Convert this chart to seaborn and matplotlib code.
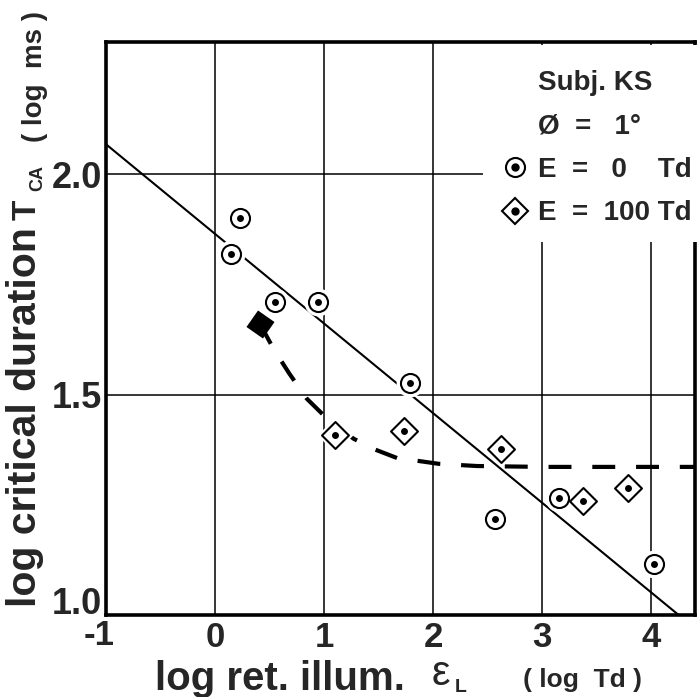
import matplotlib
matplotlib.use("Agg")
import matplotlib.pyplot as plt
import matplotlib.transforms as mtransforms
from matplotlib.lines import Line2D
from matplotlib.patches import Rectangle
import seaborn as sns

# E = 0 Td : dotted circles
illum_dark = [0.15, 0.23, 0.55, 0.94, 1.79, 2.57, 3.15, 4.02]
dur_dark = [1.818, 1.900, 1.709, 1.709, 1.527, 1.218, 1.266, 1.116]

# E = 100 Td : dotted diamonds
illum_bg = [1.10, 1.73, 2.62, 3.37, 3.79]
dur_bg = [1.409, 1.418, 1.377, 1.259, 1.289]

# E = 100 Td : filled starting point of the dashed curve
illum_start = [0.41]
dur_start = [1.661]

# straight line through the E = 0 data
fit_x = [-1.0, 4.25]
fit_y = [2.068, 1.0]

# dashed curve through the E = 100 data
curve_x = [0.41, 0.54, 0.68, 0.84, 1.05, 1.27, 1.45, 1.68, 1.85, 2.05, 2.4, 3.0, 3.5, 4.0, 4.4]
curve_y = [1.661, 1.602, 1.548, 1.491, 1.440, 1.400, 1.377, 1.355, 1.350, 1.343,
           1.338, 1.336, 1.336, 1.336, 1.336]

x_ticks = [-1, 0, 1, 2, 3, 4]
x_tick_labels = ["-1", "0", "1", "2", "3", "4"]
y_ticks = [1.0, 1.5, 2.0]
y_tick_labels = ["1.0", "1.5", "2.0"]

legend_labels = ["Subj. KS", "Ø  =   1°", "E  =   0    Td", "E  =  100 Td"]

sns.set_style("white")
plt.rcParams["font.family"] = ["Liberation Sans", "DejaVu Sans"]
plt.rcParams["font.weight"] = "bold"

W, H = 698, 697
fig = plt.figure(figsize=(W / 100, H / 100), dpi=100)
ax = fig.add_axes([106 / W, 1 - 615 / H, (695 - 106) / W, (615 - 42) / H])


def ftext(px, py, s, **kw):
    return fig.text(px / W, 1 - py / H, s, **kw)


ax.set_xlim(-1, 4.4)
ax.set_ylim(1.0, 2.3)
ax.set_xticks(x_ticks)
ax.set_xticklabels(x_tick_labels)
ax.set_yticks(y_ticks)
ax.set_yticklabels(y_tick_labels)
ax.grid(True, color="black", lw=1.1)
ax.set_axisbelow(True)
for sp in ax.spines.values():
    sp.set_color("black")
    sp.set_linewidth(2.6)
ax.tick_params(axis="x", labelsize=25, pad=4, length=0)
ax.tick_params(axis="y", labelsize=26, pad=3, length=0)

# nudge the corner labels apart
lab_y0 = ax.get_yticklabels()[0]
lab_y0.set_transform(lab_y0.get_transform() + mtransforms.ScaledTranslation(0, 0.15, fig.dpi_scale_trans))
lab_x0 = ax.get_xticklabels()[0]
lab_x0.set_transform(lab_x0.get_transform() + mtransforms.ScaledTranslation(-0.07, 0.02, fig.dpi_scale_trans))

# curves
sns.lineplot(x=fit_x, y=fit_y, color="black", lw=1.5, ax=ax, zorder=2)
sns.lineplot(x=curve_x, y=curve_y, color="black", lw=3, linestyle=(0, (5.5, 5)),
             ax=ax, zorder=2)

# white halos keep the lines clear of the symbols
sns.scatterplot(x=illum_dark, y=dur_dark, marker="o", s=400, color="white",
                linewidth=0, ax=ax, zorder=3)
sns.scatterplot(x=illum_bg, y=dur_bg, marker="D", s=330, color="white",
                linewidth=0, ax=ax, zorder=3)

# symbols
sns.scatterplot(x=illum_dark, y=dur_dark, marker="o", s=188, color="white",
                edgecolor="black", linewidth=1.5, ax=ax, zorder=4)
sns.scatterplot(x=illum_bg, y=dur_bg, marker="D", s=188, color="white",
                edgecolor="black", linewidth=1.5, ax=ax, zorder=4)
sns.scatterplot(x=illum_dark + illum_bg, y=dur_dark + dur_bg, marker="o", s=25,
                color="black", linewidth=0, ax=ax, zorder=5)
sns.scatterplot(x=illum_start, y=dur_start, marker=(4, 0, 10), s=420, color="black",
                linewidth=0, ax=ax, zorder=5)

# blank panel behind the key
ax.add_patch(Rectangle((2.46, 1.846), 2.1, 0.447, facecolor="white", edgecolor="none",
                       zorder=3, clip_on=False))

circ = Line2D([], [], marker="o", ls="none", ms=13.7, mfc="white", mec="black", mew=1.5)
diam = Line2D([], [], marker="D", ls="none", ms=13.7, mfc="white", mec="black", mew=1.5)
dot = Line2D([], [], marker="o", ls="none", ms=5, color="black")
blank = Line2D([], [], ls="none")
leg = ax.legend(handles=[blank, blank, (circ, dot), (diam, dot)], labels=legend_labels,
                loc="upper left", bbox_to_anchor=(500 / W, 1 - 70 / H),
                bbox_transform=fig.transFigure, frameon=False, fontsize=20,
                handlelength=1.05, handletextpad=0.3, labelspacing=0.63,
                borderpad=0, borderaxespad=0)
leg.set_zorder(6)

# axis titles
ftext(36, 607, "log critical duration", rotation=90, rotation_mode="anchor",
      ha="left", va="baseline", fontsize=29.5)
ftext(36, 220, "T", rotation=90, rotation_mode="anchor", ha="left", va="baseline", fontsize=24)
ftext(42, 191, "CA", rotation=90, rotation_mode="anchor", ha="left", va="baseline", fontsize=13)
ftext(42, 142, "( log  ms )", rotation=90, rotation_mode="anchor", ha="left",
      va="baseline", fontsize=20)

ftext(155, 690, "log ret. illum.", ha="left", va="baseline", fontsize=29)
ftext(432, 685, "ε", ha="left", va="baseline", fontsize=30, fontweight="normal")
ftext(455, 692, "L", ha="left", va="baseline", fontsize=14)
ftext(523, 687, "( log  Td )", ha="left", va="baseline", fontsize=19)

fig.savefig("out.png", dpi=100)
